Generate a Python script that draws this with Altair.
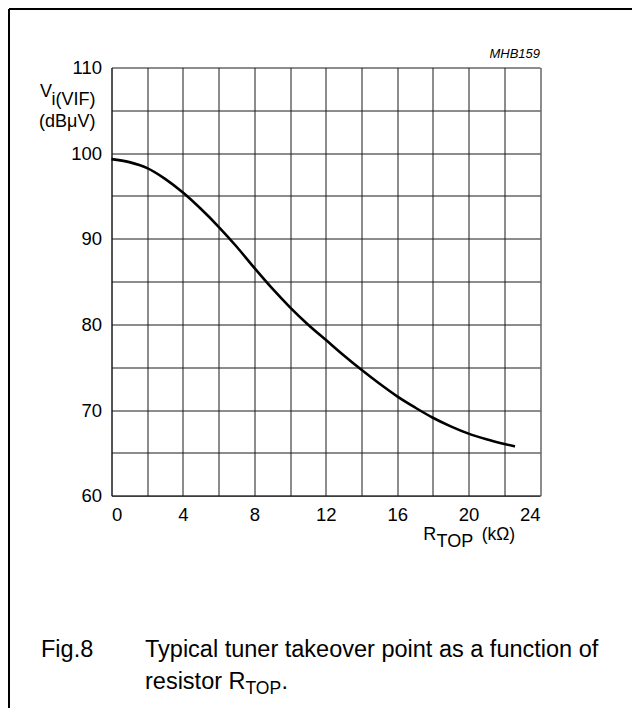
import altair as alt
import pandas as pd

# Curve
r_top = [0, 1, 2, 3, 4, 5, 6, 7, 8, 9, 10, 11, 12, 13, 14, 15, 16, 17, 18, 19, 20, 21, 22, 22.6]
v_vif = [99.3, 98.95, 98.25, 97.0, 95.4, 93.5, 91.4, 89.1, 86.6, 84.2, 82.0, 80.0, 78.2,
         76.4, 74.7, 73.1, 71.6, 70.3, 69.1, 68.1, 67.25, 66.6, 66.05, 65.75]

x_grid = list(range(0, 25, 2))
y_grid = list(range(60, 111, 5))

FONT = "Liberation Sans"
W, H = 428.5, 428.2
PL, PT, PR, PB = 103.5, 59.5, 92, 212.3

df = pd.DataFrame({"r": r_top, "v": v_vif})

curve = alt.Chart(df).mark_line(color="black", strokeWidth=2.6, interpolate="monotone").encode(
    x=alt.X("r:Q", scale=alt.Scale(domain=[0, 24], nice=False, zero=False),
            axis=alt.Axis(values=x_grid, title=None, grid=True, tickSize=0, labelPadding=10,
                          labelExpr="datum.value % 4 === 0 ? datum.label : ''")),
    y=alt.Y("v:Q", scale=alt.Scale(domain=[60, 110], nice=False, zero=False),
            axis=alt.Axis(values=y_grid, title=None, grid=True, tickSize=0, labelPadding=10,
                          labelExpr="datum.value % 10 === 0 ? datum.label : ''")),
)

one = alt.Data(values=[{"k": 1}])


def txt(s, x, y, size=18, align="left", style="normal"):
    return alt.Chart(one).mark_text(
        text=s, font=FONT, fontSize=size, align=align, baseline="alphabetic",
        fontStyle=style, color="black"
    ).encode(x=alt.value(x), y=alt.value(y))


texts = [
    txt("MHB159", W, -9.2, size=13, align="right", style="italic"),
    txt("V", -59.5, 29.2, align="right"),
    txt("i(VIF)", -16, 37.5, align="right"),
    txt("(dBμV)", -16, 59.8, align="right"),
    txt("R", 311.8, 472.5),
    txt("TOP", 325, 479.2),
    txt("(kΩ)", 370.2, 472.5, size=17.5),
    txt("Fig.8", -70.5, 589.3, size=23.5),
    txt("Typical tuner takeover point as a function of", 33.5, 589.3, size=23.5),
    txt("resistor R", 33.5, 621, size=23.5),
    txt("TOP", 134, 626, size=17.5),
    txt(".", 170, 621, size=23.5),
]

border_left = alt.Chart(one).mark_rule(color="black", strokeWidth=2).encode(
    x=alt.value(-PL + 1), y=alt.value(-PT + 1), y2=alt.value(H + PB)
)
border_top = alt.Chart(one).mark_rule(color="black", strokeWidth=2).encode(
    x=alt.value(-PL + 1), x2=alt.value(W + PR), y=alt.value(-PT + 1)
)

chart = alt.layer(curve, border_left, border_top, *texts).properties(
    width=W, height=H,
    autosize=alt.AutoSizeParams(type="none"),
    padding={"left": PL, "top": PT, "right": PR, "bottom": PB},
    background="white",
).configure_axis(
    gridColor="#1a1a1a", gridWidth=1, gridOpacity=1,
    domainColor="#1a1a1a", domainWidth=1,
    labelFont=FONT, labelFontSize=18.5, labelColor="black",
).configure_view(strokeOpacity=0)

chart.save("out.html", embed_options={"renderer": "svg", "actions": False})
